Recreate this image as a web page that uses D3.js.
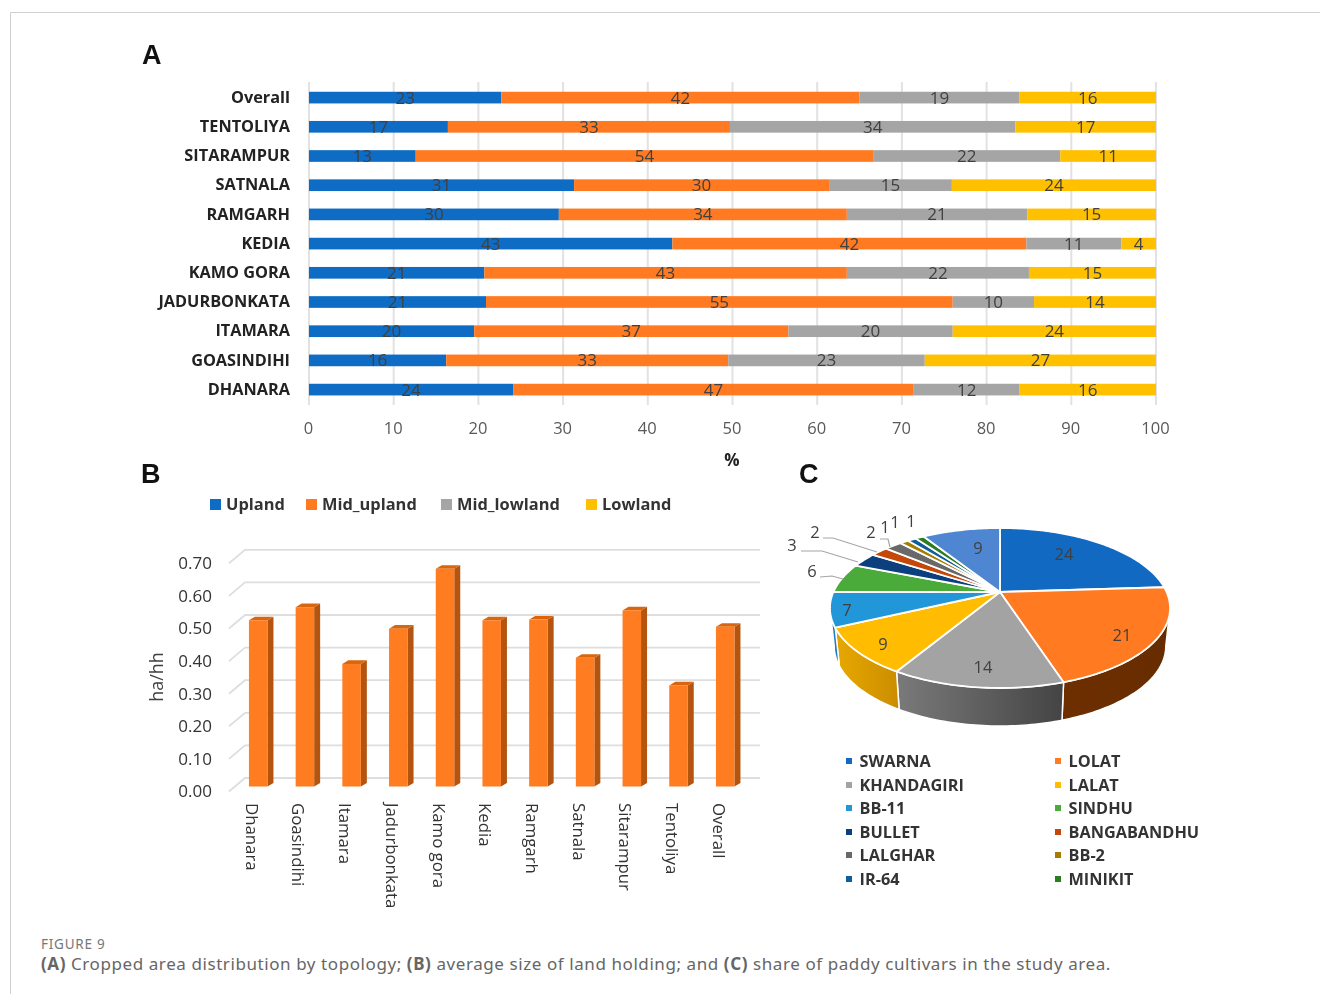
<!DOCTYPE html>
<html><head><meta charset="utf-8">
<script src="https://cdn.jsdelivr.net/npm/d3@7"></script>
<style>
html,body{margin:0;padding:0;background:#fff;overflow:hidden}
svg{display:block}
text{font-family:"Open Sans",sans-serif}
.domain{display:none}
</style></head><body>
<svg id="c" width="1320" height="994"></svg>
<script>
// Panel A
const categoriesA = ["Overall","TENTOLIYA","SITARAMPUR","SATNALA","RAMGARH","KEDIA","KAMO GORA","JADURBONKATA","ITAMARA","GOASINDIHI","DHANARA"];
const seriesNames = ["Upland","Mid_upland","Mid_lowland","Lowland"];
const upland     = [22.7,16.4,12.6,31.3,29.5,42.9,20.7,20.9,19.5,16.2,24.1];
const midUpland  = [42.3,33.3,54.0,30.1,34.0,41.8,42.8,55.1,37.1,33.3,47.3];
const midLowland = [18.9,33.7,22.1,14.5,21.3,11.2,21.5,9.6,19.4,23.2,12.5];
const lowland    = [16.1,16.6,11.3,24.1,15.2,4.1,15.0,14.4,24.0,27.3,16.1];
const uplandLabels     = [23,17,13,31,30,43,21,21,20,16,24];
const midUplandLabels  = [42,33,54,30,34,42,43,55,37,33,47];
const midLowlandLabels = [19,34,22,15,21,11,22,10,20,23,12];
const lowlandLabels    = [16,17,11,24,15,4,15,14,24,27,16];
const colorsA = ["#0F6CC4","#FF7A20","#A5A5A5","#FFC000"];
// Panel B
const categoriesB = ["Dhanara","Goasindihi","Itamara","Jadurbonkata","Kamo gora","Kedia","Ramgarh","Satnala","Sitarampur","Tentoliya","Overall"];
const holding = [0.51,0.55,0.376,0.484,0.668,0.51,0.512,0.395,0.54,0.31,0.49];
const holdingTicks = [0,0.1,0.2,0.3,0.4,0.5,0.6,0.7];
// Panel C
const cultivars = ["SWARNA","LOLAT","KHANDAGIRI","LALAT","BB-11","SINDHU","BULLET","BANGABANDHU","LALGHAR","BB-2","IR-64","MINIKIT","Others"];
const shares = [24,21,13.6,9.4,7,6,3,2,2,1,1,1,9];
const cultivarColors = ["#1169C1","#FF7A20","#A3A3A3","#FFBC00","#2196D9","#4BAB3A","#0B3F7E","#C4480A","#696969","#A67C00","#0F5E9C","#2B7D22","#4F86D2"];
const sideColors = {1:["#6E2F00","#662C00"],2:["#7A7A7A","#444444"],3:["#E8A800","#CC8E00"],4:["#1A7FBA","#1A7FBA"]};
const pieLabelPos = [[1064,554],[1122,635],[983,667],[883,644],[847,610],[812,571],[792,545],[815,532],[871,532],[885,527],[895,522],[911,521],[978,548]];
const leaders = [[[820,577],[832,576],[843,579]],[[801,551],[822,551],[858,562]],[[823,538],[833,538],[877,552]],[[880,539],[888,539],[890,547]]];

const page = d3.select("#c");
// page frame
page.append("path").attr("d","M10.5 994V12.5H1320").attr("fill","none").attr("stroke","#d0d0d0");
const svg = page.append("g").style("filter","blur(0.45px)");
const ink="#333", bold="#222";

// panel letters
[["A",142,64],["B",141,483],["C",799,483]].forEach(([t,x,y])=>svg.append("text").text(t).attr("x",x).attr("y",y)
  .style("font-family","'Liberation Sans',sans-serif").attr("font-size",27).attr("font-weight",700).attr("fill","#111"));

/* ---------- A ---------- */
const xA = d3.scaleLinear().domain([0,100]).range([309,1156]);
const yA = d3.scaleBand().domain(categoriesA).range([83,404.2]).paddingInner(0.6).paddingOuter(0.3);
const gA = svg.append("g");
gA.append("g").selectAll("line").data(xA.ticks(10)).join("line")
  .attr("x1",d=>xA(d)).attr("x2",d=>xA(d)).attr("y1",82).attr("y2",405)
  .attr("stroke","#E2E2E2").attr("stroke-width",2);
const stackA = d3.stack().keys([0,1,2,3]).value((d,k)=>d[k])(categoriesA.map((c,i)=>[upland[i],midUpland[i],midLowland[i],lowland[i]]));
const labelsA=[uplandLabels,midUplandLabels,midLowlandLabels,lowlandLabels];
stackA.forEach((s,k)=>{
  gA.append("g").selectAll("rect").data(s).join("rect")
    .attr("x",d=>xA(d[0])).attr("width",d=>xA(d[1])-xA(d[0]))
    .attr("y",(d,i)=>yA(categoriesA[i])).attr("height",yA.bandwidth()).attr("fill",colorsA[k]);
});
stackA.forEach((s,k)=>{
  gA.append("g").selectAll("text").data(s).join("text")
    .attr("x",d=>xA((d[0]+d[1])/2)).attr("y",(d,i)=>yA(categoriesA[i])+yA.bandwidth()/2+6)
    .attr("text-anchor","middle").attr("font-size",17).attr("fill","#404040")
    .text((d,i)=>labelsA[k][i]);
});
const axA = svg.append("g").attr("transform","translate(-1,405)").call(d3.axisBottom(xA).ticks(10).tickSize(0).tickPadding(17));
axA.selectAll("text").attr("font-size",16.5).attr("fill","#595959");
const ayA = svg.append("g").attr("transform","translate(290,0)").call(d3.axisLeft(yA).tickSize(0).tickPadding(0));
ayA.selectAll("text").attr("font-size",16.3).attr("font-weight",700).attr("fill",bold);
svg.append("text").text("%").attr("x",732).attr("y",465.5).attr("text-anchor","middle").attr("font-size",17).attr("font-weight",700).attr("fill",bold);

/* ---------- B ---------- */
const legendX=[210,306,441,586];
seriesNames.forEach((n,i)=>{
  svg.append("rect").attr("x",legendX[i]).attr("y",499).attr("width",11).attr("height",11).attr("fill",colorsA[i]);
  svg.append("text").text(n).attr("x",legendX[i]+16).attr("y",510).attr("font-size",16.4).attr("font-weight",700).attr("fill",ink);
});
const yB = d3.scaleLinear().domain([0,0.7]).range([791.5,563.3]);
const xB = d3.scalePoint().domain(categoriesB).range([258.2,725.2]);
const dx=16, dy=13.5, barLift=5, barW=18.5, sx=6, sy=3.6;
svg.append("g").selectAll("path").data(holdingTicks).join("path")
  .attr("d",d=>`M229 ${yB(d)}L${229+dx} ${yB(d)-dy}H760`).attr("fill","none").attr("stroke","#DEDEDE").attr("stroke-width",1.8);
const bars = svg.append("g").selectAll("g").data(categoriesB).join("g");
const bx=d=>xB(d)-barW/2, bt=(d,i)=>yB(holding[i])-barLift, bb=yB(0)-barLift;
bars.append("path").attr("fill","#B4540F").attr("d",(d,i)=>{const x=bx(d)+barW,t=bt(d,i);
  return `M${x} ${t}L${x+sx} ${t-sy}V${bb-sy}L${x} ${bb}Z`});
bars.append("path").attr("fill","#D9660F").attr("d",(d,i)=>{const x=bx(d),t=bt(d,i);
  return `M${x} ${t}L${x+sx} ${t-sy}H${x+barW+sx}L${x+barW} ${t}Z`});
bars.append("rect").attr("fill","#FF7C20").attr("x",bx).attr("y",bt).attr("width",barW).attr("height",(d,i)=>bb-bt(d,i));
const ayB = svg.append("g").attr("transform","translate(212,0)").call(d3.axisLeft(yB).tickValues(holdingTicks).tickFormat(d3.format(".2f")).tickSize(0).tickPadding(0));
ayB.selectAll("text").attr("font-size",17).attr("fill","#333");
svg.append("g").selectAll("text").data(categoriesB).join("text")
  .attr("transform",d=>`translate(${xB(d)-12.5},803) rotate(90)`).attr("font-size",16.8).attr("fill",ink).text(d=>d);
svg.append("text").text("ha/hh").attr("transform","translate(163,677) rotate(-90)").attr("text-anchor","middle").attr("font-size",18).attr("fill","#404040");

/* ---------- C ---------- */
const cx=1000, cy=592, A=166.6, B=76.8, k=0.2, depth=38, shrink=0.975;
const proj=(a,r=1)=>{const X=r*Math.sin(a),Y=-r*Math.cos(a),w=1-k*Y;return [cx+A*X/w,cy+B*Y/w];};
const low=p=>[cx+(p[0]-cx)*shrink,p[1]+depth];
const arcs=d3.pie().sort(null).value(d=>d)(shares);
const pts=(a0,a1)=>{const n=Math.max(2,Math.ceil((a1-a0)/0.02));return d3.range(n+1).map(i=>proj(a0+(a1-a0)*i/n));};
const line=d3.line();
const defs=svg.append("defs");
const sideMin=Math.PI-Math.acos(k), sideMax=Math.PI+Math.acos(k);
arcs.forEach((a,i)=>{
  const a0=Math.max(a.startAngle,sideMin), a1=Math.min(a.endAngle,sideMax);
  if(a1<=a0) return;
  const top=pts(a0,a1), bot=top.map(low).reverse();
  const id="sg"+i, c=sideColors[i]||[cultivarColors[i],cultivarColors[i]];
  const g=defs.append("linearGradient").attr("id",id).attr("gradientUnits","userSpaceOnUse")
    .attr("x1",d3.min(top,p=>p[0])).attr("x2",d3.max(top,p=>p[0])).attr("y1",0).attr("y2",0);
  g.append("stop").attr("offset",0).attr("stop-color",c[0]);
  g.append("stop").attr("offset",1).attr("stop-color",c[1]);
  svg.append("path").attr("d",line(top.concat(bot))+"Z").attr("fill",`url(#${id})`).attr("stroke","#fff").attr("stroke-width",1.5);
});
arcs.forEach((a,i)=>{
  svg.append("path").attr("d",line([[cx,cy]].concat(pts(a.startAngle,a.endAngle)))+"Z")
    .attr("fill",cultivarColors[i]).attr("stroke","#fff").attr("stroke-width",1.8).attr("stroke-linejoin","round");
});
leaders.forEach(l=>svg.append("path").attr("d",line(l)).attr("fill","none").attr("stroke","#A6A6A6").attr("stroke-width",1.2));
svg.append("g").selectAll("text").data(shares).join("text")
  .attr("x",(d,i)=>pieLabelPos[i][0]).attr("y",(d,i)=>pieLabelPos[i][1]+6)
  .attr("text-anchor","middle").attr("font-size",16.5).attr("fill","#404040").text(d=>Math.round(d));
const legendRows=[761,785,808,832,855,879];
cultivars.slice(0,12).forEach((n,i)=>{
  const col=i%2, row=Math.floor(i/2), x=col?1055:846, y=legendRows[row];
  svg.append("rect").attr("x",x).attr("y",y-3).attr("width",6).attr("height",6).attr("fill",cultivarColors[i]);
  svg.append("text").text(n).attr("x",x+13.5).attr("y",y+6).attr("font-size",16.3).attr("font-weight",700).attr("fill",ink);
});

/* ---------- caption ---------- */
page.append("text").text("FIGURE 9").attr("x",41).attr("y",949).style("font-family","'Noto Sans',sans-serif").attr("font-size",13.5).attr("letter-spacing",0.75).attr("fill","#777");
const cap=page.append("text").attr("x",41).attr("y",970).style("font-family","'Noto Sans',sans-serif").attr("font-size",17).attr("letter-spacing",0.58).attr("fill","#666");
[["(A)",1],[" Cropped area distribution by topology; ",0],["(B)",1],[" average size of land holding; and ",0],["(C)",1],[" share of paddy cultivars in the study area.",0]]
 .forEach(([t,b])=>cap.append("tspan").text(t).attr("font-weight",b?700:400).attr("xml:space","preserve"));
</script></body></html>
